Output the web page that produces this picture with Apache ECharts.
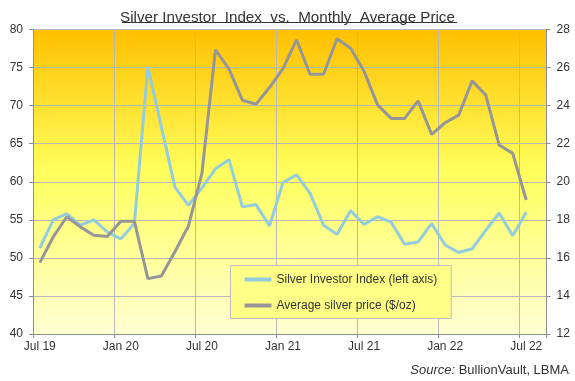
<!DOCTYPE html>
<html>
<head>
<meta charset="utf-8">
<script src="https://cdn.jsdelivr.net/npm/echarts@6/dist/echarts.min.js"></script>
<style>
html,body{margin:0;padding:0;background:#fff;}
#chart{width:575px;height:381px;}
</style>
</head>
<body>
<div id="chart"></div>
<script>
var months = ['Jul 19','Aug 19','Sep 19','Oct 19','Nov 19','Dec 19',
  'Jan 20','Feb 20','Mar 20','Apr 20','May 20','Jun 20',
  'Jul 20','Aug 20','Sep 20','Oct 20','Nov 20','Dec 20',
  'Jan 21','Feb 21','Mar 21','Apr 21','May 21','Jun 21',
  'Jul 21','Aug 21','Sep 21','Oct 21','Nov 21','Dec 21',
  'Jan 22','Feb 22','Mar 22','Apr 22','May 22','Jun 22',
  'Jul 22','Aug 22'];
var investorIndex = [51.3,55.0,55.8,54.3,55.0,53.4,52.5,54.5,75.1,67.2,59.3,56.9,
  59.2,61.7,62.9,56.7,57.0,54.2,59.9,60.9,58.5,54.3,53.1,56.2,
  54.4,55.4,54.7,51.8,52.1,54.5,51.7,50.7,51.2,53.6,55.9,52.9,56.0];
var silverPrice = [15.75,17.1,18.16,17.63,17.19,17.12,17.93,17.93,14.91,15.05,16.32,17.67,
  20.44,26.93,25.93,24.28,24.07,24.95,25.95,27.46,25.65,25.65,27.51,27.02,
  25.8,24.04,23.33,23.33,24.25,22.49,23.1,23.5,25.3,24.56,21.93,21.49,19.04];
var leftTicks = {min:40, max:80, interval:5};
var rightTicks = {min:12, max:28, interval:2};
var seriesNames = ['Silver Investor Index (left axis)', 'Average silver price ($/oz)'];
var titleText = 'Silver Investor  Index  vs.  Monthly  Average Price';

var chart = echarts.init(document.getElementById('chart'), null, {renderer:'canvas'});
var font = 'Liberation Sans, Arial, sans-serif';
var gridColor = '#B8B8B8';
var axisColor = '#8C8C8C';
chart.setOption({
  animation: false,
  textStyle: {fontFamily: font},
  title: {
    text: titleText,
    left: 'center',
    top: 5,
    textStyle: {fontSize: 15.2, fontWeight: 'normal', color: '#333', fontFamily: font}
  },
  graphic: [
    {type:'line', shape:{x1:122, y1:22.5, x2:457, y2:22.5}, style:{stroke:'#333', lineWidth:1}},
    {type:'text', right: 6, top: 364,
      style:{
        text:'{i|Source:} BullionVault, LBMA',
        font: '13px ' + font,
        fill:'#333',
        rich:{ i:{fontStyle:'italic', fontSize:13, fontFamily:font, fill:'#333'} }
      }}
  ],
  legend: {
    orient: 'vertical',
    left: 230.5,
    top: 265.5,
    padding: [8, 14, 7, 14],
    itemGap: 14,
    itemWidth: 27,
    itemHeight: 4,
    icon: 'rect',
    backgroundColor: '#FFFF88',
    borderColor: '#BDBDBD',
    borderWidth: 1,
    borderRadius: 0,
    textStyle: {fontSize: 12, color: '#333', fontFamily: font},
    data: seriesNames
  },
  grid: {
    left: 33, right: 28.5, top: 29.5, bottom: 47,
    show: true,
    borderWidth: 0,
    backgroundColor: new echarts.graphic.LinearGradient(0, 0, 0, 1, [
      {offset: 0, color: '#FFC000'},
      {offset: 0.47, color: '#FFFF5E'},
      {offset: 1, color: '#FFFFD2'}
    ])
  },
  xAxis: {
    type: 'category',
    data: months,
    boundaryGap: true,
    axisLine: {lineStyle: {color: axisColor, width: 1}},
    axisTick: {show: true, interval: 5, length: 4, lineStyle: {color: axisColor}},
    axisLabel: {interval: 5, margin: 7, fontSize: 12, color: '#333', fontFamily: font},
    splitLine: {show: true, interval: 5, lineStyle: {color: gridColor, width: 1}}
  },
  yAxis: [
    {
      type: 'value', position: 'left',
      min: leftTicks.min, max: leftTicks.max, interval: leftTicks.interval,
      axisLine: {show: true, lineStyle: {color: axisColor, width: 1}},
      axisTick: {show: true, length: 4, lineStyle: {color: axisColor}},
      axisLabel: {margin: 10, fontSize: 12, color: '#333', fontFamily: font},
      splitLine: {show: true, lineStyle: {color: gridColor, width: 1}}
    },
    {
      type: 'value', position: 'right',
      min: rightTicks.min, max: rightTicks.max, interval: rightTicks.interval,
      axisLine: {show: true, lineStyle: {color: axisColor, width: 1}},
      axisTick: {show: true, length: 4, lineStyle: {color: axisColor}},
      axisLabel: {margin: 10, fontSize: 12, color: '#333', fontFamily: font},
      splitLine: {show: false}
    }
  ],
  series: [
    {
      name: seriesNames[0], type: 'line', yAxisIndex: 0,
      data: investorIndex, showSymbol: false, symbol: 'none',
      lineStyle: {color: '#93CDDD', width: 3}, itemStyle: {color: '#93CDDD'}
    },
    {
      name: seriesNames[1], type: 'line', yAxisIndex: 1,
      data: silverPrice, showSymbol: false, symbol: 'none',
      lineStyle: {color: '#969696', width: 3}, itemStyle: {color: '#969696'}
    }
  ]
});
</script>
</body>
</html>
